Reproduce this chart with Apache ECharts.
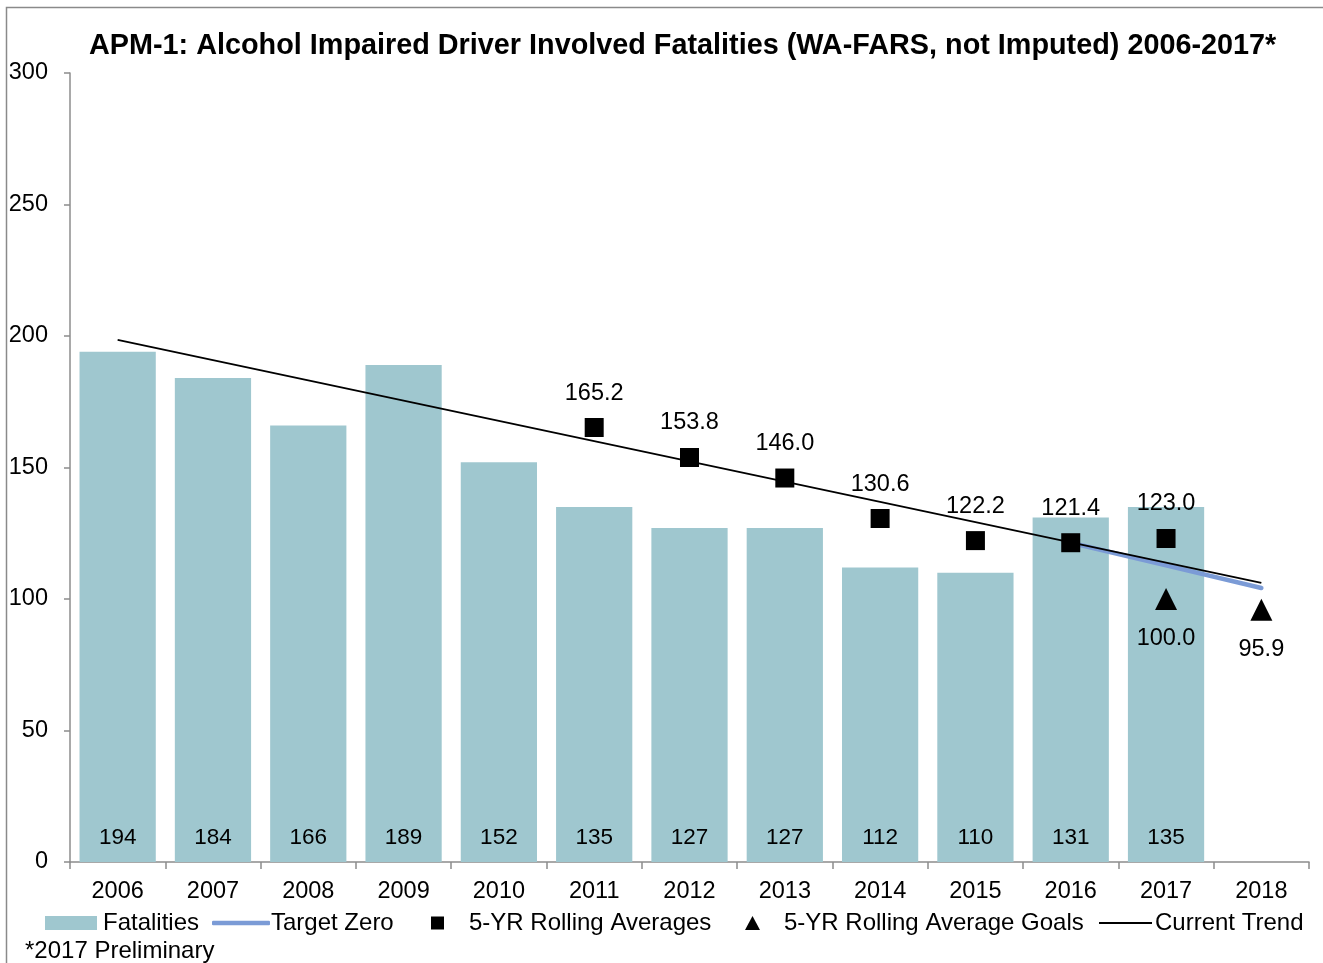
<!DOCTYPE html>
<html>
<head>
<meta charset="utf-8">
<script src="https://cdn.jsdelivr.net/npm/echarts@6/dist/echarts.min.js"></script>
<style>html,body{margin:0;padding:0;background:#fff;}#c{width:1323px;height:963px;}</style>
</head>
<body>
<div id="c"></div>
<script>
const years = ['2006','2007','2008','2009','2010','2011','2012','2013','2014','2015','2016','2017','2018'];
const fatalities = [194,184,166,189,152,135,127,127,112,110,131,135,null];
const targetZero = [null,null,null,null,null,null,null,null,null,null,121.4,112.8,104.2];
const rollingAvg = [null,null,null,null,null,165.2,153.8,146.0,130.6,122.2,121.4,123.0,null];
const rollingGoals = [null,null,null,null,null,null,null,null,null,null,null,100.0,95.9];
const currentTrend = [198.5,null,null,null,null,null,null,null,null,null,null,null,106.1];
const titleText = 'APM-1: Alcohol Impaired Driver Involved Fatalities (WA-FARS, not Imputed) 2006-2017*';
const footnote = '*2017 Preliminary';

const FONT = 'Liberation Sans, Arial, sans-serif';
const BAR = '#9fc7cf', BLUE = '#7b9bd6';
const legendText = { fontFamily: FONT, fontSize: 24, color: '#000' };
function legendFor(name, left, w, h, color, textPad, icon) {
  return {
    left: left, top: 922 - 11, padding: 0, itemGap: 0,
    itemWidth: w, itemHeight: h,
    textStyle: Object.assign({}, legendText, { padding: [0, 0, 0, textPad] }),
    data: [{ name: name, icon: icon || 'rect', itemStyle: { color: color, opacity: 1 } }]
  };
}
const chart = echarts.init(document.getElementById('c'));
chart.setOption({
  backgroundColor: '#fff',
  animation: false,
  textStyle: { fontFamily: FONT, color: '#000' },
  title: {
    text: titleText, left: 84, top: 27,
    textStyle: { fontFamily: FONT, fontWeight: 'bold', fontSize: 28.8, color: '#000' }
  },
  graphic: [
    { type: 'rect', shape: { x: 6.5, y: 7.5, width: 1400, height: 1000 }, style: { fill: 'none', stroke: '#8a8a8a', lineWidth: 1.5 }, silent: true },
    { type: 'text', left: 25, top: 939, style: { text: footnote, font: '24px ' + FONT, fill: '#000' } }
  ],
  legend: [
    legendFor('Fatalities', 45, 52, 14, BAR, 1),
    legendFor('Target Zero', 212, 58, 4.5, BLUE, -4, 'roundRect'),
    legendFor('5-YR Rolling Averages', 431, 13, 13, '#000', 20),
    legendFor('5-YR Rolling Average Goals', 745, 15, 14, '#000', 19, 'triangle'),
    legendFor('Current Trend', 1099, 53, 1.8, '#000', -2)
  ],
  grid: { left: 70, right: 14, top: 73, bottom: 101 },
  xAxis: {
    type: 'category', data: years, boundaryGap: true,
    axisLine: { lineStyle: { color: '#8c8c8c', width: 1.5 } },
    axisTick: { show: true, interval: 0, length: 7, lineStyle: { color: '#8c8c8c', width: 1.5 } },
    axisLabel: { interval: 0, fontSize: 23.5, color: '#000', margin: 18, fontFamily: FONT }
  },
  yAxis: {
    type: 'value', min: 0, max: 300, interval: 50,
    axisLine: { show: true, lineStyle: { color: '#8c8c8c', width: 1.5 } },
    axisTick: { show: true, length: 6, lineStyle: { color: '#8c8c8c', width: 1.5 } },
    splitLine: { show: false },
    axisLabel: { fontSize: 23.5, color: '#000', margin: 22, fontFamily: FONT, padding: [4, 0, 0, 0] }
  },
  series: [
    {
      name: 'Fatalities', type: 'bar', data: fatalities, barCategoryGap: '20%',
      itemStyle: { color: BAR },
      label: { show: true, position: 'insideBottom', distance: 13, fontSize: 22.5, color: '#000', fontFamily: FONT },
      z: 1
    },
    {
      name: 'Target Zero', type: 'line', data: targetZero, symbol: 'none', connectNulls: true,
      lineStyle: { color: BLUE, width: 4.5, cap: 'round' }, itemStyle: { color: BLUE }, z: 2
    },
    {
      name: 'Current Trend', type: 'line', data: currentTrend, symbol: 'none', connectNulls: true,
      lineStyle: { color: '#000', width: 1.8 }, itemStyle: { color: '#000' }, z: 3
    },
    {
      name: '5-YR Rolling Averages', type: 'scatter', data: rollingAvg, symbol: 'rect', symbolSize: 19,
      itemStyle: { color: '#000', opacity: 1 },
      label: { show: true, position: 'top', distance: 13, fontSize: 23.5, color: '#000', fontFamily: FONT,
        formatter: p => p.value == null ? '' : Number(p.value).toFixed(1) },
      z: 4
    },
    {
      name: '5-YR Rolling Average Goals', type: 'scatter', data: rollingGoals, symbol: 'triangle', symbolSize: 22,
      itemStyle: { color: '#000', opacity: 1 },
      label: { show: true, position: 'bottom', distance: 17, fontSize: 23.5, color: '#000', fontFamily: FONT,
        formatter: p => p.value == null ? '' : Number(p.value).toFixed(1) },
      z: 4
    }
  ]
});
</script>
</body>
</html>
